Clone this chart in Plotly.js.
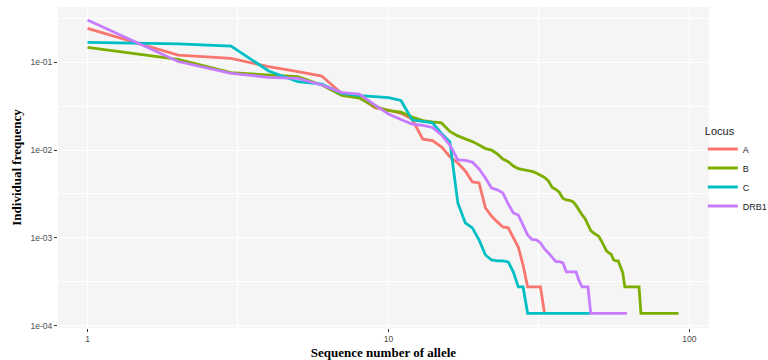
<!DOCTYPE html>
<html>
<head>
<meta charset="utf-8">
<script src="https://cdn.plot.ly/plotly-3.0.1.min.js"></script>
<style>
  html, body { margin: 0; padding: 0; background: #ffffff; }
  #chart { width: 768px; height: 360px; }
</style>
</head>
<body>
<div id="chart"></div>
<script>
// Loci (legend entries)
const loci = ["A", "B", "C", "DRB1"];
const lociColors = ["#F8766D", "#7CAE00", "#00BFC4", "#C77CFF"];

// Individual frequency of each allele, ordered by sequence number (1, 2, 3, ...)
const freqA = [
  0.244, 0.121, 0.111, 0.0891, 0.0781, 0.0698, 0.0441, 0.0403, 0.0304, 0.0286,
  0.0262, 0.0224, 0.0133, 0.0128, 0.0109, 0.00841, 0.00713, 0.00578, 0.00433, 0.00422,
  0.00219, 0.00177, 0.00152, 0.00133, 0.00130, 0.00102, 0.000787, 0.000491, 0.000276, 0.000276,
  0.000276, 0.000276, 0.000138
];
const freqB = [
  0.148, 0.108, 0.0762, 0.0723, 0.0686, 0.0551, 0.0419, 0.0392, 0.0314, 0.0282,
  0.0270, 0.0238, 0.0217, 0.0209, 0.0204, 0.0163, 0.0145, 0.0134, 0.0125, 0.0114,
  0.0104, 0.0100, 0.00903, 0.00792, 0.00738, 0.00659, 0.00614, 0.00598, 0.00586, 0.00572,
  0.00548, 0.00520, 0.00488, 0.00445, 0.00375, 0.00356, 0.00329, 0.00281, 0.00270, 0.00267,
  0.00258, 0.00234, 0.00202, 0.00182, 0.00166, 0.00140, 0.00121, 0.00114, 0.00108, 0.00104,
  0.000922, 0.000809, 0.000710, 0.000673, 0.000647, 0.000560, 0.000546, 0.000546, 0.000467, 0.000404,
  0.000276, 0.000276, 0.000276, 0.000276, 0.000276, 0.000276, 0.000276, 0.000276, 0.000138, 0.000138,
  0.000138, 0.000138, 0.000138, 0.000138, 0.000138, 0.000138, 0.000138, 0.000138, 0.000138, 0.000138,
  0.000138, 0.000138, 0.000138, 0.000138, 0.000138, 0.000138, 0.000138, 0.000138, 0.000138, 0.000138,
  0.000138, 0.000138
];
const freqC = [
  0.169, 0.162, 0.153, 0.0796, 0.0601, 0.0566, 0.0443, 0.0417, 0.0406, 0.0397,
  0.0367, 0.0220, 0.0212, 0.0204, 0.0155, 0.0124, 0.00250, 0.00148, 0.00130, 0.000946,
  0.000638, 0.000560, 0.000546, 0.000546, 0.000531, 0.000408, 0.000276, 0.000276, 0.000138, 0.000138,
  0.000138, 0.000138, 0.000138, 0.000138, 0.000138, 0.000138, 0.000138, 0.000138, 0.000138, 0.000138,
  0.000138, 0.000138, 0.000138, 0.000138, 0.000138, 0.000138, 0.000138
];
const freqDRB1 = [
  0.303, 0.102, 0.0749, 0.0675, 0.0657, 0.0551, 0.0451, 0.0435, 0.0327, 0.0258,
  0.0223, 0.0198, 0.0191, 0.0181, 0.0149, 0.0114, 0.00771, 0.00762, 0.00731, 0.00609,
  0.00481, 0.00370, 0.00352, 0.00325, 0.00243, 0.00192, 0.00182, 0.00140, 0.00108, 0.000959,
  0.000946, 0.000875, 0.000748, 0.000673, 0.000606, 0.000535, 0.000535, 0.000518, 0.000409, 0.000409,
  0.000409, 0.000409, 0.000323, 0.000276, 0.000276, 0.000276, 0.000138, 0.000138, 0.000138, 0.000138,
  0.000138, 0.000138, 0.000138, 0.000138, 0.000138, 0.000138, 0.000138, 0.000138, 0.000138, 0.000138,
  0.000138, 0.000138
];

// Axis ticks
const xTickVals = [1, 10, 100];
const xTickText = ["1", "10", "100"];
const xMinorVals = [3.1623, 31.623];
const yTickVals = [1e-4, 1e-3, 1e-2, 1e-1];
const yTickText = ["1e-04", "1e-03", "1e-02", "1e-01"];
const yMinorVals = [3.1623e-4, 3.1623e-3, 3.1623e-2, 3.1623e-1];

const series = [freqA, freqB, freqC, freqDRB1];

const traces = series.map((vals, i) => ({
  type: "scatter",
  mode: "lines",
  name: loci[i],
  x: vals.map((_, k) => k + 1),
  y: vals,
  line: { color: lociColors[i], width: 2.8, shape: "linear" },
  hoverinfo: "x+y+name"
}));

const sans = "Liberation Sans, Arial, sans-serif";
const serif = "Liberation Serif, Times New Roman, serif";

const layout = {
  width: 768,
  height: 360,
  margin: { l: 58, r: 59, t: 7, b: 32, pad: 0, autoexpand: false },
  paper_bgcolor: "#ffffff",
  plot_bgcolor: "#F5F5F5",
  showlegend: true,
  legend: {
    title: { text: "Locus", font: { family: sans, size: 11, color: "#1a1a1a" } },
    font: { family: sans, size: 9, color: "#1a1a1a" },
    x: 0.9905, xanchor: "left", xref: "paper",
    y: 0.49, yanchor: "middle",
    bgcolor: "rgba(0,0,0,0)",
    borderwidth: 0,
    itemwidth: 30
  },
  xaxis: {
    type: "log",
    range: [-0.098, 2.065],
    tickvals: xTickVals,
    ticktext: xTickText,
    ticks: "outside",
    ticklen: 3,
    tickwidth: 1,
    tickcolor: "#333333",
    tickfont: { family: sans, size: 8.5, color: "#4D4D4D" },
    showgrid: true,
    gridcolor: "#ffffff",
    gridwidth: 1.4,
    minor: { tickvals: xMinorVals, showgrid: true, gridcolor: "#ffffff", gridwidth: 0.7, ticks: "" },
    zeroline: false,
    showline: false,
    automargin: false,
    title: { text: "Sequence number of allele", font: { family: serif, size: 13, color: "#000000", weight: "bold" }, standoff: 4 }
  },
  yaxis: {
    type: "log",
    range: [-4.027, -0.37],
    tickvals: yTickVals,
    ticktext: yTickText,
    ticks: "outside",
    ticklen: 3,
    tickwidth: 1,
    tickcolor: "#333333",
    tickfont: { family: sans, size: 8.5, color: "#4D4D4D" },
    showgrid: true,
    gridcolor: "#ffffff",
    gridwidth: 1.4,
    minor: { tickvals: yMinorVals, showgrid: true, gridcolor: "#ffffff", gridwidth: 0.7, ticks: "" },
    zeroline: false,
    showline: false,
    automargin: false,
    title: { text: "Individual frequency", font: { family: serif, size: 13, color: "#000000", weight: "bold" }, standoff: 5 }
  }
};

Plotly.newPlot("chart", traces, layout, { displayModeBar: false, staticPlot: false });
</script>
</body>
</html>
